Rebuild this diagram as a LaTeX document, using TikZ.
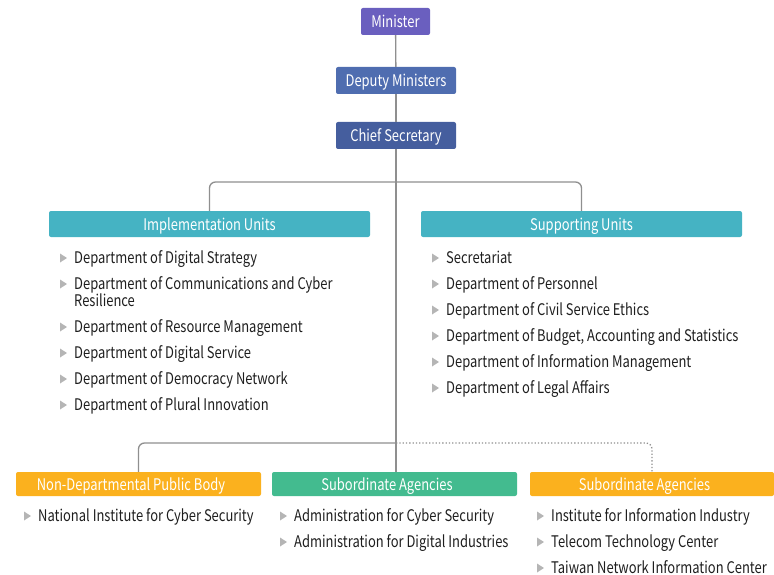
\documentclass[tikz,border=0pt]{standalone}
\usepackage{fontspec}
\setmainfont{Noto Sans CJK TC}
\newfontfamily\chartfont{Noto Sans CJK TC}[FakeStretch=0.81]
\usetikzlibrary{positioning,shapes.geometric}

\definecolor{minister}{HTML}{6A5FBF}
\definecolor{deputy}{HTML}{4F6DB0}
\definecolor{chief}{HTML}{455E9E}
\definecolor{unit}{HTML}{45B3C3}
\definecolor{agency}{HTML}{43BB8F}
\definecolor{body}{HTML}{FBB11E}
\definecolor{linegray}{HTML}{8F8F8F}
\definecolor{bulletgray}{HTML}{B5B5B5}
\definecolor{itemtext}{HTML}{1E1E1E}

\tikzset{
  head/.style={rounded corners=2pt, text=white, inner sep=0pt,
    text height=14.5pt, text depth=2pt,
    minimum height=27pt, font=\chartfont\fontsize{16}{18}\selectfont},
  unit/.style={head, minimum height=26pt},
  agencybox/.style={head, minimum height=24pt, minimum width=245pt,
    execute at end node={\hspace*{15pt}}},
  item/.style={anchor=base west, inner sep=0pt, text=itemtext,
    font=\chartfont\fontsize{16}{18}\selectfont},
  bullet/.pic={\fill[bulletgray] (-3.5,-4.5) -- (3.5,0) -- (-3.5,4.5) -- cycle;},
  conn/.style={draw=linegray, line width=1.3pt}
}

\begin{document}
\begin{tikzpicture}[x=1pt, y=-1pt]
  \useasboundingbox (0,0) rectangle (774,575);

  % top of the chart
  \node[head, fill=minister, minimum width=69pt] (min) at (395.5,21.5) {Minister};
  \node[head, fill=deputy, minimum width=120pt] (dep) at (396,80.5) {Deputy Ministers};
  \node[head, fill=chief, minimum width=120pt] (chief) at (396,135.5) {Chief Secretary};

  % units
  \node[unit, fill=unit, minimum width=321pt] (impl) at (209.5,224) {Implementation Units};
  \node[unit, fill=unit, minimum width=321pt] (sup) at (581.5,224) {Supporting Units};

  % agencies
  \node[agencybox, fill=body] (npb) at (138.5,484) {Non-Departmental Public Body};
  \node[agencybox, fill=agency] (sub) at (394.5,484) {Subordinate Agencies};
  \node[agencybox, fill=body, minimum width=244pt] (sub') at (652,484) {Subordinate Agencies};

  \coordinate (fork) at (396,182);
  \coordinate (split) at (396,443);

  \draw[conn] (min) -- (dep);
  \draw[conn] (dep) -- (chief);
  \draw[conn] (chief.south) -- (chief.south |- sub.north);
  \draw[conn, rounded corners=6pt] (impl.north) |- (fork) -| (sup.north);
  \draw[conn, rounded corners=6pt] (npb.north) |- (split);
  \draw[conn, dotted, rounded corners=6pt] (split) -| (sub'.north);

  % implementation units
  \foreach \y/\t [count=\i] in {258/Department of Digital Strategy,
      284/Department of Communications and Cyber,
      327/Department of Resource Management,
      353/Department of Digital Service,
      379/Department of Democracy Network,
      405/Department of Plural Innovation} {
    \node[item] (impl\i) at (74,\y+5.5) {\t};
    \pic at (63.5,\y) {bullet};
  }
  \node[item] (impl2b) at (74,306.5) {Resilience};

  % supporting units
  \foreach \y/\t [count=\i] in {258/Secretariat,
      284/Department of Personnel,
      310/Department of Civil Service Ethics,
      336/{Department of Budget, Accounting and Statistics},
      362/Department of Information Management,
      388/Department of Legal Affairs} {
    \node[item] (sup\i) at (446,\y+5.5) {\t};
    \pic at (435.5,\y) {bullet};
  }

  % agencies
  \node[item] (npb1) at (38,521.5) {National Institute for Cyber Security};
  \pic at (27.5,516) {bullet};
  \foreach \y/\t [count=\i] in {516/Administration for Cyber Security,
      542/Administration for Digital Industries} {
    \node[item] (sub\i) at (294,\y+5.5) {\t};
    \pic at (283.5,\y) {bullet};
  }
  \foreach \y/\t [count=\i] in {516/Institute for Information Industry,
      542/Telecom Technology Center,
      568/Taiwan Network Information Center} {
    \node[item] (sub'\i) at (551,\y+5.5) {\t};
    \pic at (540.5,\y) {bullet};
  }
\end{tikzpicture}
\end{document}
